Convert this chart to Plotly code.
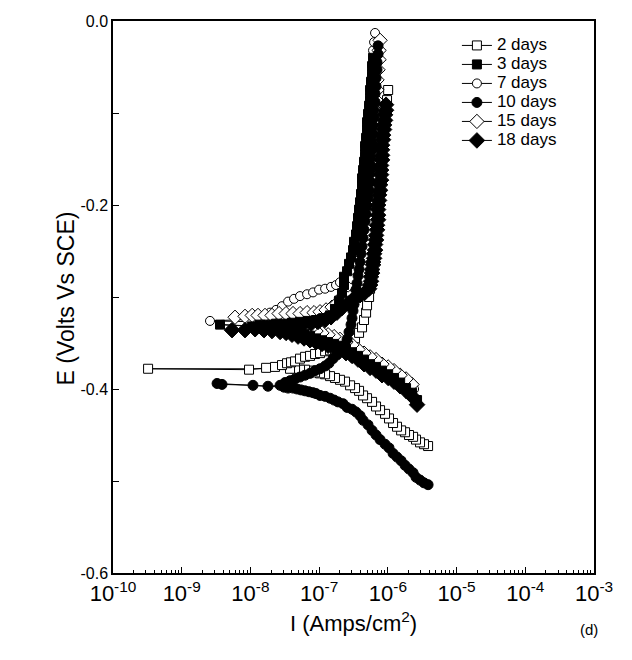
import plotly.graph_objects as go

# Potentiodynamic polarisation data: current density I (A/cm^2) and potential E (V vs SCE)
# Each series runs cathodic branch -> corrosion potential -> anodic branch.

I_2d = [3.85e-6, 3.36e-6, 2.94e-6, 2.57e-6, 2.33e-6, 2.03e-6, 1.78e-6, 1.56e-6, 1.36e-6, 1.19e-6,
        1.04e-6, 9.10e-7, 7.70e-7, 6.73e-7, 5.89e-7, 4.98e-7, 4.36e-7, 3.81e-7, 3.33e-7, 2.82e-7,
        2.38e-7, 2.01e-7, 1.70e-7, 1.44e-7, 1.22e-7, 1.03e-7, 8.72e-8, 7.37e-8, 6.24e-8, 5.27e-8,
        4.46e-8, 3.77e-8,
        3.24e-10, 9.54e-9, 1.69e-8, 2.28e-8, 2.88e-8,
        3.41e-8, 3.90e-8, 4.46e-8, 5.27e-8, 6.24e-8, 7.37e-8, 8.72e-8, 1.03e-7, 1.22e-7, 1.44e-7,
        1.70e-7, 2.01e-7, 2.38e-7, 2.82e-7, 3.33e-7, 3.81e-7, 4.21e-7, 4.50e-7, 4.82e-7, 4.98e-7,
        5.33e-7, 5.51e-7, 5.69e-7, 5.89e-7, 6.09e-7, 6.30e-7, 6.51e-7, 6.73e-7, 6.96e-7, 7.20e-7,
        7.20e-7, 7.45e-7, 7.70e-7, 7.96e-7, 7.96e-7, 8.23e-7, 8.23e-7, 8.51e-7, 8.80e-7, 9.10e-7,
        9.41e-7, 9.73e-7, 1.01e-6]
E_2d = [-0.462, -0.460, -0.458, -0.455, -0.452, -0.450, -0.447, -0.445, -0.441, -0.437,
        -0.432, -0.427, -0.423, -0.419, -0.414, -0.410, -0.407, -0.402, -0.399, -0.396,
        -0.392, -0.390, -0.388, -0.386, -0.384, -0.383, -0.382, -0.380, -0.379, -0.379,
        -0.378, -0.378,
        -0.378, -0.379, -0.377, -0.376, -0.374,
        -0.372, -0.371, -0.370, -0.367, -0.365, -0.364, -0.362, -0.361, -0.359, -0.358,
        -0.357, -0.354, -0.352, -0.349, -0.345, -0.339, -0.333, -0.325, -0.317, -0.309,
        -0.300, -0.291, -0.283, -0.274, -0.265, -0.258, -0.249, -0.238, -0.227, -0.216,
        -0.205, -0.195, -0.184, -0.173, -0.162, -0.151, -0.140, -0.129, -0.118, -0.108,
        -0.097, -0.086, -0.075]

I_3d = [2.66e-6, 2.25e-6, 1.84e-6, 1.51e-6, 1.23e-6, 1.01e-6, 8.23e-7, 6.73e-7, 5.51e-7, 4.50e-7,
        3.68e-7, 3.01e-7, 2.46e-7, 2.01e-7, 1.65e-7, 1.35e-7, 1.10e-7, 9.01e-8, 7.37e-8, 6.03e-8,
        4.93e-8, 4.03e-8, 3.30e-8, 2.70e-8, 2.06e-8, 1.58e-8,
        3.61e-9, 1.06e-8,
        1.38e-8, 1.80e-8, 2.36e-8, 3.08e-8, 4.03e-8, 5.27e-8, 6.89e-8, 9.01e-8, 1.14e-7, 1.44e-7,
        1.70e-7, 1.95e-7, 2.15e-7, 2.30e-7, 2.30e-7, 2.55e-7, 2.72e-7, 2.91e-7, 3.11e-7, 3.22e-7,
        3.44e-7, 3.56e-7, 3.68e-7, 3.81e-7, 3.94e-7, 4.07e-7, 4.21e-7, 4.21e-7, 4.36e-7, 4.50e-7,
        4.66e-7, 4.66e-7, 4.82e-7, 4.98e-7, 4.98e-7, 5.15e-7, 5.33e-7, 5.51e-7, 5.51e-7, 5.69e-7,
        5.89e-7, 5.89e-7, 6.09e-7]
E_3d = [-0.412, -0.404, -0.399, -0.393, -0.388, -0.384, -0.380, -0.376, -0.373, -0.368,
        -0.364, -0.360, -0.357, -0.353, -0.351, -0.349, -0.347, -0.345, -0.342, -0.340,
        -0.339, -0.337, -0.335, -0.334, -0.333, -0.332,
        -0.330, -0.332,
        -0.330, -0.330, -0.329, -0.329, -0.328, -0.327, -0.326, -0.325, -0.323, -0.320,
        -0.313, -0.304, -0.296, -0.287, -0.278, -0.272, -0.264, -0.257, -0.249, -0.240,
        -0.232, -0.223, -0.214, -0.205, -0.197, -0.188, -0.179, -0.171, -0.162, -0.153,
        -0.145, -0.136, -0.127, -0.118, -0.110, -0.101, -0.092, -0.084, -0.075, -0.066,
        -0.058, -0.049, -0.040]

I_7d = [2.41e-6, 1.84e-6, 1.51e-6, 1.23e-6, 1.01e-6, 8.23e-7, 6.73e-7, 5.51e-7, 4.50e-7, 3.68e-7,
        3.01e-7, 2.46e-7, 2.01e-7, 1.65e-7, 1.35e-7, 1.10e-7, 9.01e-8, 7.37e-8, 6.03e-8, 4.93e-8,
        4.03e-8, 3.30e-8, 2.70e-8, 2.06e-8, 1.58e-8,
        2.58e-9, 9.23e-9,
        1.17e-8, 1.48e-8, 1.93e-8, 2.36e-8, 2.88e-8, 3.53e-8, 4.31e-8, 5.27e-8, 6.67e-8, 8.15e-8,
        9.97e-8, 1.22e-7, 1.49e-7, 1.76e-7, 2.01e-7, 2.30e-7, 2.55e-7, 2.72e-7, 2.91e-7, 3.11e-7,
        3.22e-7, 3.44e-7, 3.56e-7, 3.68e-7, 3.81e-7, 3.94e-7, 4.07e-7, 4.21e-7, 4.21e-7, 4.36e-7,
        4.50e-7, 4.66e-7, 4.66e-7, 4.82e-7, 4.98e-7, 4.98e-7, 5.15e-7, 5.33e-7, 5.51e-7, 5.51e-7,
        5.69e-7, 5.89e-7, 5.89e-7, 6.09e-7, 6.09e-7, 6.30e-7, 6.51e-7]
E_7d = [-0.400, -0.392, -0.388, -0.384, -0.379, -0.376, -0.372, -0.368, -0.364, -0.360,
        -0.355, -0.352, -0.349, -0.347, -0.345, -0.342, -0.340, -0.338, -0.336, -0.335,
        -0.333, -0.330, -0.329, -0.328, -0.327,
        -0.326, -0.325,
        -0.324, -0.321, -0.317, -0.314, -0.310, -0.305, -0.302, -0.299, -0.297, -0.295,
        -0.292, -0.291, -0.289, -0.287, -0.284, -0.278, -0.272, -0.264, -0.257, -0.249,
        -0.240, -0.232, -0.223, -0.214, -0.205, -0.197, -0.188, -0.179, -0.171, -0.162,
        -0.153, -0.145, -0.136, -0.127, -0.118, -0.110, -0.101, -0.092, -0.084, -0.075,
        -0.066, -0.058, -0.049, -0.040, -0.032, -0.023, -0.013]

I_10d = [3.85e-6, 3.36e-6, 2.94e-6, 2.57e-6, 2.33e-6, 2.03e-6, 1.78e-6, 1.56e-6, 1.36e-6, 1.19e-6,
         1.04e-6, 9.10e-7, 7.70e-7, 6.73e-7, 5.89e-7, 5.15e-7, 4.36e-7, 3.94e-7, 3.44e-7, 3.01e-7,
         2.55e-7, 2.23e-7, 1.88e-7, 1.65e-7, 1.44e-7, 1.22e-7, 1.03e-7, 9.01e-8, 8.15e-8, 7.13e-8,
         6.24e-8, 5.45e-8, 4.77e-8, 4.17e-8, 3.53e-8, 3.08e-8,
         3.27e-9, 3.86e-9, 1.09e-8, 1.80e-8, 2.70e-8,
         3.19e-8, 3.77e-8, 4.46e-8, 5.27e-8, 6.24e-8, 7.37e-8, 8.72e-8, 1.03e-7, 1.22e-7, 1.39e-7,
         1.59e-7, 1.82e-7, 2.08e-7, 2.38e-7, 2.55e-7, 2.72e-7, 2.91e-7, 3.01e-7, 3.11e-7, 3.22e-7,
         3.33e-7, 3.44e-7, 3.56e-7, 3.68e-7, 3.81e-7, 3.94e-7, 4.07e-7, 4.21e-7, 4.36e-7, 4.50e-7,
         4.66e-7, 4.82e-7, 4.98e-7, 5.15e-7, 5.33e-7, 5.51e-7, 5.51e-7, 5.69e-7, 5.69e-7, 5.89e-7,
         5.89e-7, 6.09e-7, 6.09e-7, 6.30e-7, 6.30e-7, 6.51e-7, 6.51e-7, 6.73e-7, 6.73e-7, 6.96e-7,
         6.96e-7, 7.20e-7, 7.20e-7]
E_10d = [-0.504, -0.502, -0.499, -0.496, -0.491, -0.487, -0.483, -0.478, -0.474, -0.470,
         -0.464, -0.460, -0.455, -0.450, -0.445, -0.439, -0.434, -0.429, -0.425, -0.422,
         -0.420, -0.416, -0.414, -0.412, -0.410, -0.408, -0.407, -0.405, -0.404, -0.403,
         -0.402, -0.401, -0.400, -0.399, -0.399, -0.398,
         -0.394, -0.395, -0.396, -0.397, -0.396,
         -0.393, -0.391, -0.389, -0.387, -0.385, -0.383, -0.380, -0.378, -0.375, -0.372,
         -0.367, -0.363, -0.358, -0.352, -0.346, -0.338, -0.330, -0.323, -0.315, -0.308,
         -0.300, -0.292, -0.285, -0.277, -0.270, -0.262, -0.253, -0.245, -0.236, -0.227,
         -0.218, -0.210, -0.201, -0.192, -0.184, -0.175, -0.166, -0.158, -0.149, -0.140,
         -0.132, -0.123, -0.114, -0.105, -0.097, -0.088, -0.079, -0.071, -0.062, -0.053,
         -0.045, -0.036, -0.027]

I_15d = [2.25e-6, 1.84e-6, 1.51e-6, 1.23e-6, 1.01e-6, 8.23e-7, 6.73e-7, 5.51e-7, 4.50e-7, 3.68e-7,
         3.01e-7, 2.46e-7, 2.01e-7, 1.65e-7, 1.35e-7, 1.10e-7, 9.01e-8, 7.37e-8, 6.03e-8, 4.93e-8,
         4.03e-8, 3.30e-8, 2.70e-8, 2.06e-8, 1.58e-8,
         5.97e-9, 8.34e-9,
         1.06e-8, 1.29e-8, 1.63e-8, 2.06e-8, 2.61e-8, 3.30e-8, 4.17e-8, 5.27e-8, 6.67e-8, 8.43e-8,
         1.03e-7, 1.26e-7, 1.54e-7, 1.82e-7, 2.08e-7, 2.38e-7, 2.64e-7, 2.91e-7, 3.11e-7, 3.33e-7,
         3.56e-7, 3.81e-7, 4.07e-7, 4.21e-7, 4.50e-7, 4.66e-7, 4.98e-7, 5.15e-7, 5.33e-7, 5.51e-7,
         5.69e-7, 5.89e-7, 6.09e-7, 6.30e-7, 6.51e-7, 6.73e-7, 6.96e-7, 6.96e-7, 7.20e-7, 7.45e-7,
         7.45e-7, 7.70e-7]
E_15d = [-0.395, -0.389, -0.385, -0.380, -0.376, -0.373, -0.368, -0.365, -0.361, -0.357,
         -0.352, -0.349, -0.346, -0.343, -0.341, -0.339, -0.337, -0.335, -0.333, -0.332,
         -0.329, -0.327, -0.326, -0.325, -0.324,
         -0.322, -0.321,
         -0.320, -0.320, -0.320, -0.320, -0.318, -0.318, -0.318, -0.318, -0.317, -0.317,
         -0.316, -0.314, -0.311, -0.307, -0.301, -0.295, -0.287, -0.278, -0.268, -0.259,
         -0.249, -0.238, -0.227, -0.216, -0.205, -0.195, -0.184, -0.173, -0.162, -0.151,
         -0.140, -0.129, -0.118, -0.108, -0.097, -0.086, -0.075, -0.064, -0.053, -0.042,
         -0.032, -0.021]

I_18d = [2.66e-6, 2.25e-6, 1.84e-6, 1.51e-6, 1.23e-6, 1.01e-6, 8.23e-7, 6.73e-7, 5.51e-7, 4.50e-7,
         3.68e-7, 3.01e-7, 2.46e-7, 2.01e-7, 1.65e-7, 1.35e-7, 1.10e-7, 9.01e-8, 7.37e-8, 6.03e-8,
         4.93e-8, 4.03e-8, 3.30e-8, 2.70e-8, 2.06e-8, 1.58e-8,
         5.40e-9, 8.34e-9,
         1.17e-8, 1.53e-8, 1.99e-8, 2.61e-8, 3.41e-8, 4.46e-8, 5.83e-8, 7.62e-8, 9.64e-8, 1.22e-7,
         1.49e-7, 1.82e-7, 2.15e-7, 2.64e-7, 3.22e-7, 3.94e-7, 4.66e-7, 5.33e-7, 5.51e-7, 5.69e-7,
         5.69e-7, 5.89e-7, 5.89e-7, 6.09e-7, 6.09e-7, 6.30e-7, 6.30e-7, 6.51e-7, 6.51e-7, 6.73e-7,
         6.73e-7, 6.96e-7, 6.96e-7, 7.20e-7, 7.20e-7, 7.20e-7, 7.20e-7, 7.45e-7, 7.45e-7, 7.70e-7,
         7.70e-7, 7.96e-7, 7.96e-7, 7.96e-7, 7.96e-7, 8.23e-7, 8.23e-7, 8.23e-7, 8.23e-7, 8.51e-7,
         8.51e-7, 8.80e-7, 8.80e-7, 9.10e-7, 9.10e-7, 9.41e-7, 9.41e-7]
E_18d = [-0.417, -0.408, -0.402, -0.397, -0.392, -0.388, -0.385, -0.380, -0.377, -0.373,
         -0.368, -0.364, -0.361, -0.358, -0.355, -0.353, -0.351, -0.349, -0.347, -0.345,
         -0.343, -0.341, -0.339, -0.338, -0.337, -0.336,
         -0.336, -0.336,
         -0.335, -0.335, -0.334, -0.334, -0.333, -0.332, -0.330, -0.329, -0.327, -0.325,
         -0.322, -0.317, -0.312, -0.307, -0.302, -0.298, -0.295, -0.291, -0.287, -0.283,
         -0.278, -0.274, -0.270, -0.265, -0.262, -0.258, -0.253, -0.249, -0.243, -0.238,
         -0.233, -0.227, -0.222, -0.216, -0.211, -0.205, -0.200, -0.195, -0.189, -0.184,
         -0.178, -0.173, -0.167, -0.162, -0.157, -0.151, -0.146, -0.140, -0.135, -0.129,
         -0.124, -0.118, -0.113, -0.108, -0.102, -0.097, -0.091]

# (label, currents, potentials, marker symbol, marker size, legend position)
series = [
    ("2 days", I_2d, E_2d, "square-open", 9, 1),
    ("7 days", I_7d, E_7d, "circle-open", 9, 3),
    ("15 days", I_15d, E_15d, "diamond-open", 11, 5),
    ("3 days", I_3d, E_3d, "square", 9, 2),
    ("10 days", I_10d, E_10d, "circle", 10, 4),
    ("18 days", I_18d, E_18d, "diamond", 12, 6),
]

x_tick_vals = [1e-10, 1e-9, 1e-8, 1e-7, 1e-6, 1e-5, 1e-4, 1e-3]
x_tick_text = ["10<sup>-10</sup>", "10<sup>-9</sup>", "10<sup>-8</sup>", "10<sup>-7</sup>",
               "10<sup>-6</sup>", "10<sup>-5</sup>", "10<sup>-4</sup>", "10<sup>-3</sup>"]
y_tick_vals = [0.0, -0.2, -0.4, -0.6]
y_tick_text = ["0.0", "-0.2", "-0.4", "-0.6"]

FONT = "Arial, Liberation Sans, sans-serif"

fig = go.Figure()
for name, cur, pot, sym, size, rank in series:
    is_open = sym.endswith("-open")
    fig.add_trace(go.Scatter(
        x=cur, y=pot, name=f'<span style="font-size:17px">{name}</span>',
        legendrank=rank,
        mode="lines+markers",
        line=dict(color="black", width=1),
        marker=dict(symbol=sym.replace("-open", ""), size=size,
                    color="white" if is_open else "black",
                    line=dict(color="black", width=1)),
    ))

axis_common = dict(
    showline=True, linecolor="black", linewidth=1.5, mirror=True,
    showgrid=False, zeroline=False,
    ticks="inside", ticklen=6, tickwidth=1, tickcolor="black",
)

fig.update_xaxes(
    type="log", range=[-10, -3],
    tickmode="array", tickvals=x_tick_vals, ticktext=x_tick_text,
    tickfont=dict(family=FONT, size=22, color="black"),
    minor=dict(ticks="inside", ticklen=3, tickwidth=1, tickcolor="black", dtick="D1", showgrid=False),
    **axis_common,
)
fig.update_yaxes(
    range=[-0.6, 0.0],
    tickmode="array", tickvals=y_tick_vals, ticktext=y_tick_text,
    tickfont=dict(family=FONT, size=16, color="black"),
    minor=dict(ticks="inside", ticklen=6, tickwidth=1, tickcolor="black", dtick=0.1, tick0=0, showgrid=False),
    **axis_common,
)

# Axis titles and panel tag
fig.add_annotation(text="I (Amps/cm<sup>2</sup>)", xref="paper", yref="paper", x=0.5, y=-0.089,
                   xanchor="center", yanchor="middle", showarrow=False,
                   font=dict(family=FONT, size=22, color="black"))
fig.add_annotation(text="E (Volts Vs SCE)", xref="paper", yref="paper", x=-0.097, y=0.498,
                   xanchor="center", yanchor="middle", textangle=-90, showarrow=False,
                   font=dict(family=FONT, size=23, color="black"))
fig.add_annotation(text="(d)", xref="paper", yref="paper", x=1.0125, y=-0.103,
                   xanchor="right", yanchor="middle", showarrow=False,
                   font=dict(family=FONT, size=15, color="black"))

fig.update_layout(
    width=632, height=660,
    margin=dict(l=113, r=38, t=21, b=87),
    paper_bgcolor="white", plot_bgcolor="white",
    font=dict(family=FONT, color="black"),
    showlegend=True,
    legend=dict(x=0.715, y=0.982, xanchor="left", yanchor="top",
                bgcolor="rgba(0,0,0,0)", borderwidth=0,
                font=dict(family=FONT, size=12, color="black"),
                itemwidth=30),
)

fig.write_html("out.html")
